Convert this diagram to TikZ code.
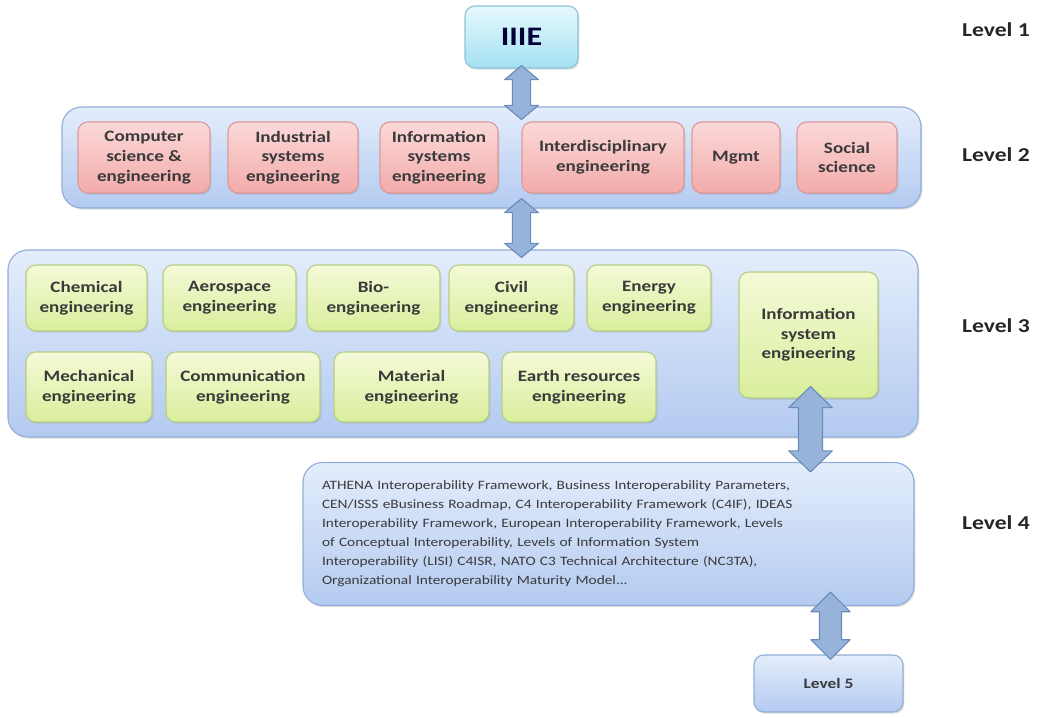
\documentclass[tikz,border=0pt]{standalone}
\usepackage{fontspec}
\setmainfont{Carlito}[FakeStretch=1.2]
\usetikzlibrary{calc,shadows}

\definecolor{txt}{HTML}{3A3A3A}
\definecolor{cyantop}{HTML}{E6F9FD}
\definecolor{cyanbot}{HTML}{A4E0F2}
\definecolor{cyanline}{HTML}{8CC4D8}
\definecolor{bluetop}{HTML}{E4EDFC}
\definecolor{bluebot}{HTML}{B3CAF0}
\definecolor{blueline}{HTML}{92ADD8}
\definecolor{pinktop}{HTML}{FBD9D9}
\definecolor{pinkbot}{HTML}{F3AAAA}
\definecolor{pinkline}{HTML}{DC9A9A}
\definecolor{greentop}{HTML}{F4FAD8}
\definecolor{greenbot}{HTML}{D9EE9C}
\definecolor{greenline}{HTML}{B7CE82}
\definecolor{arrfill}{HTML}{97B3D9}
\definecolor{arrline}{HTML}{6A8CBC}

% fat double arrow: top tip, bottom tip, half shaft, half head, head length
\newcommand{\fatarrow}[5]{%
  \draw[fatarr] let \p1=(#1), \p2=(#2) in
    (\x1,\y1) -- (\x1-#4,\y1-#5) -- (\x1-#3,\y1-#5) -- (\x1-#3,\y2+#5)
    -- (\x1-#4,\y2+#5) -- (\x1,\y2) -- (\x1+#4,\y2+#5) -- (\x1+#3,\y2+#5)
    -- (\x1+#3,\y1-#5) -- (\x1+#4,\y1-#5) -- cycle;}

\begin{document}
\begin{tikzpicture}[x=0.025cm, y=-0.025cm,
  wh/.style 2 args={minimum width=#1*0.025cm, minimum height=#2*0.025cm},
  base/.style={rounded corners=7pt, line width=0.8pt, align=center, inner sep=2pt,
    text=txt, font=\bfseries\fontsize{11.3}{14}\selectfont,
    drop shadow={opacity=0.25, shadow xshift=1pt, shadow yshift=-1.2pt}},
  cyanbox/.style={base, draw=cyanline, top color=cyantop, bottom color=cyanbot},
  bluebox/.style={base, draw=blueline, top color=bluetop, bottom color=bluebot},
  frame/.style={bluebox, rounded corners=14pt},
  pinkbox/.style={base, draw=pinkline, top color=pinktop, bottom color=pinkbot},
  greenbox/.style={base, draw=greenline, top color=greentop, bottom color=greenbot},
  fatarr/.style={draw=arrline, fill=arrfill, line width=0.8pt, line join=round},
  level/.style={font=\bfseries\fontsize{14}{16}\selectfont, text=black!85}]

\useasboundingbox (0,0) rectangle (1042,718);

% level 1
\node[cyanbox, wh={113}{62}, text=black!80!blue, font=\bfseries\fontsize{19}{22}\selectfont] (iiie) at (521.5,37) {IIIE};

% level 2
\node[frame, wh={859}{101}] (lvtwo) at (491.5,157.5) {};
\node[pinkbox, wh={132}{71}] (cse) at (144,157.5) {Computer\\science \&\\engineering};
\node[pinkbox, wh={130}{71}] (ise) at (293,157.5) {Industrial\\systems\\engineering};
\node[pinkbox, wh={118}{71}] (infs) at (439,157.5) {Information\\systems\\engineering};
\node[pinkbox, wh={162}{71}] (inter) at (603,157.5) {Interdisciplinary\\engineering};
\node[pinkbox, wh={88}{71}] (mgmt) at (736,157.5) {Mgmt};
\node[pinkbox, wh={100}{71}] (soc) at (847,157.5) {Social\\science};

% level 3
\node[frame, wh={910}{187}] (lvthree) at (463,343.5) {};
\node[greenbox, wh={121}{66}] (chem) at (86.5,298) {Chemical\\engineering};
\node[greenbox, wh={133}{66}] (aero) at (229.5,298) {Aerospace\\engineering};
\node[greenbox, wh={133}{66}] (bio) at (373.5,298) {Bio-\\engineering};
\node[greenbox, wh={125}{66}] (civil) at (511.5,298) {Civil\\engineering};
\node[greenbox, wh={124}{66}] (energy) at (649,298) {Energy\\engineering};
\node[greenbox, wh={126}{70}] (mech) at (89,387) {Mechanical\\engineering};
\node[greenbox, wh={154}{70}] (comm) at (243,387) {Communication\\engineering};
\node[greenbox, wh={155}{70}] (mat) at (411.5,387) {Material\\engineering};
\node[greenbox, wh={154}{70}] (earth) at (579,387) {Earth resources\\engineering};
\node[greenbox, wh={139}{126}] (infsys) at (808.5,335) {Information\\system\\engineering};

% level 4
\node[bluebox, rounded corners=14pt, wh={611}{143}, align=left, text width=573*0.025cm,
  inner xsep=19*0.025cm, font=\fontsize{9.1}{13.5}\selectfont] (lvfour) at (608.5,534)
  {ATHENA Interoperability Framework, Business Interoperability Parameters,\\
   CEN/ISSS eBusiness Roadmap, C4 Interoperability Framework (C4IF), IDEAS\\
   Interoperability Framework, European Interoperability Framework, Levels\\
   of Conceptual Interoperability, Levels of Information System\\
   Interoperability (LISI) C4ISR, NATO C3 Technical Architecture (NC3TA),\\
   Organizational Interoperability Maturity Model...};

% level 5
\node[bluebox, wh={149}{57}, font=\bfseries\fontsize{10.3}{13}\selectfont] (lvfive) at (828.5,683.5) {Level 5};

% level labels
\node[level] (l1) at (996,30) {Level 1};
\node[level] (l2) at (996,155) {Level 2};
\node[level] (l3) at (996,326) {Level 3};
\node[level] (l4) at (996,523) {Level 4};

% arrows
\fatarrow{$(iiie.south)+(0,-3)$}{$(lvtwo.north -| iiie.south)+(0,13)$}{6.5pt}{12pt}{10pt}
\fatarrow{$(lvtwo.south -| iiie.south)+(0,-10)$}{$(lvthree.north -| iiie.south)+(0,8)$}{6.5pt}{12pt}{10pt}
\fatarrow{$(infsys.south)+(2,-12)$}{$(lvfour.north -| infsys.south)+(2,10)$}{8.5pt}{15.5pt}{15pt}
\fatarrow{$(lvfive.north |- lvfour.south)+(2,-14)$}{$(lvfive.north)+(2,5)$}{7.8pt}{14pt}{14pt}
\end{tikzpicture}
\end{document}
